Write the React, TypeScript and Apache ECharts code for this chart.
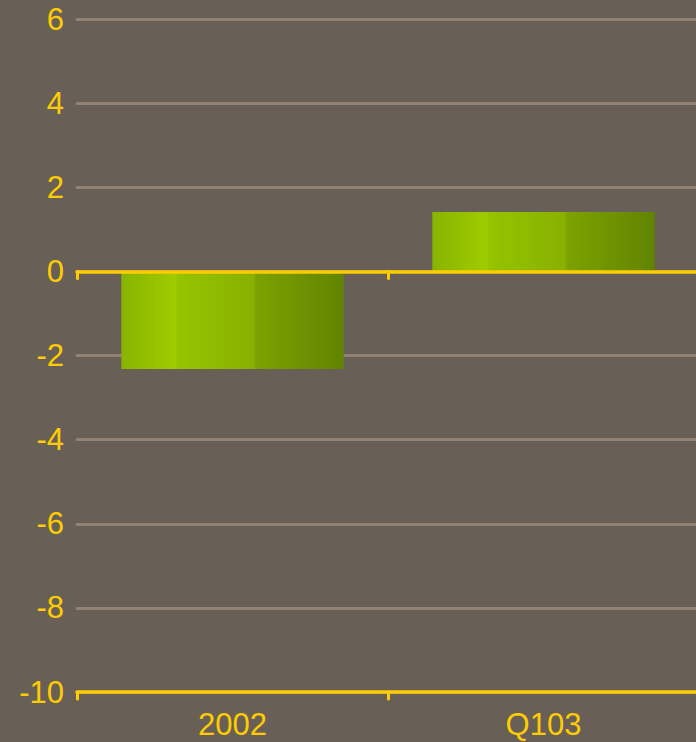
import React, { useEffect, useRef } from "react";
import * as echarts from "echarts";

const categories = ["2002", "Q103"];
const values = [-2.32, 1.41];
const yMin = -10;
const yMax = 6;
const yInterval = 2;

const YELLOW = "#ffcc00";
const BG = "#686056";
const GRID = "#918273";

export default function App() {
  const ref = useRef<HTMLDivElement>(null);
  useEffect(() => {
    if (!ref.current) return;
    const chart = echarts.init(ref.current, null, { renderer: "svg" });
    const barGradient = new echarts.graphic.LinearGradient(0, 0, 1, 0, [
      { offset: 0, color: "#88b400" },
      { offset: 0.245, color: "#9fcc00" },
      { offset: 0.255, color: "#95c400" },
      { offset: 0.595, color: "#88b100" },
      { offset: 0.605, color: "#7ca200" },
      { offset: 1, color: "#618400" },
    ]);
    chart.setOption({
      animation: false,
      backgroundColor: BG,
      grid: {
        left: 77,
        top: 19,
        bottom: 50,
        width: 622,
        containLabel: false,
        outerBoundsMode: "none",
      },
      xAxis: [
        {
          type: "category",
          data: categories,
          position: "bottom",
          axisLine: { onZero: false, lineStyle: { color: YELLOW, width: 3.5, cap: "round" } },
          axisTick: { show: true, length: 7, lineStyle: { color: YELLOW, width: 3, cap: "round" } },
          axisLabel: {
            color: YELLOW,
            fontSize: 31,
            fontFamily: "Liberation Sans, Arial, sans-serif",
            margin: 17,
          },
          splitLine: { show: false },
          z: 5,
        },
        {
          type: "category",
          data: categories,
          position: "bottom",
          axisLine: { onZero: true, lineStyle: { color: YELLOW, width: 3.5, cap: "round" } },
          axisTick: { show: true, length: 7, lineStyle: { color: YELLOW, width: 3, cap: "round" } },
          axisLabel: { show: false },
          splitLine: { show: false },
          z: 5,
        },
      ],
      yAxis: {
        type: "value",
        min: yMin,
        max: yMax,
        interval: yInterval,
        axisLine: { show: false },
        axisTick: { show: false },
        axisLabel: {
          color: YELLOW,
          fontSize: 31,
          fontFamily: "Liberation Sans, Arial, sans-serif",
          margin: 13,
        },
        splitLine: { show: true, lineStyle: { color: GRID, width: 3, cap: "round" } },
      },
      series: [
        {
          type: "bar",
          xAxisIndex: 0,
          data: values,
          barWidth: "71.5%",
          itemStyle: { color: barGradient },
        },
      ],
    });
    return () => chart.dispose();
  }, []);
  return (
    <div
      ref={ref}
      style={{ position: "fixed", left: 0, top: 0, width: 696, height: 742 }}
    />
  );
}
